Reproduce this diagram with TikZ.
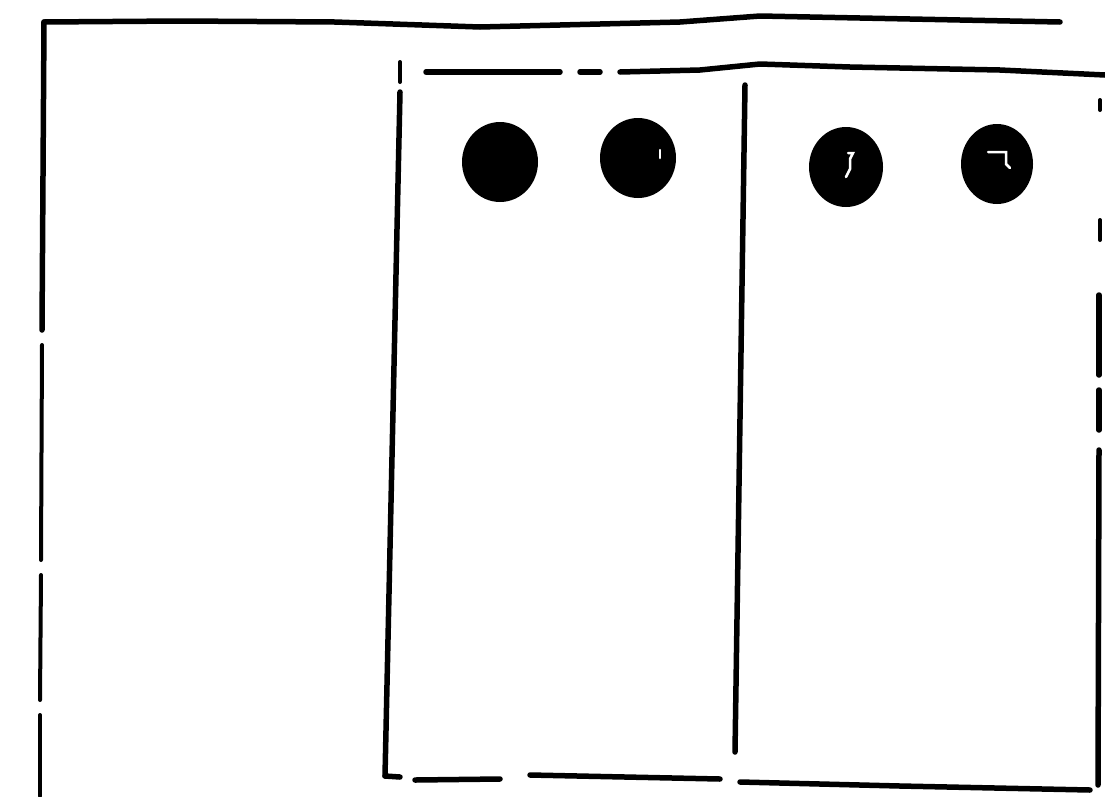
\documentclass[tikz,border=0pt]{standalone}
\usetikzlibrary{calc}
\tikzset{
	pen/.style   ={line width=5.5pt, black, line cap=round, line join=round},
	thinpen/.style={line width=4pt, black, line cap=round},
	blob/.style  ={ellipse, fill=black, minimum width=76pt, minimum height=80pt, inner sep=0pt},
	nick/.style  ={line width=2.5pt, white, line cap=round},
}
\usetikzlibrary{shapes.geometric}
\begin{document}
\begin{tikzpicture}[x=1pt, y=-1pt]
	\useasboundingbox (0,0) rectangle (1105,796);
	% outer frame
	\coordinate (oTL) at (44,22);
	\draw[pen] (oTL) -- (180,21) -- (335,22) -- (480,27) -- (680,22) -- (760,16) -- (1060,22);
	\draw[pen] (oTL) -- (42,330);
	\draw[thinpen] (42,345) -- (41,560);
	\draw[thinpen] (41,575) -- (40,700);
	\draw[thinpen] (40,715) -- (40,796);
	% inner frame
	\coordinate (iTL) at (400,92);
	\coordinate (iBL) at (385,776);
	\coordinate (iBR) at (1090,790);
	\draw[thinpen] (400,62) -- (400,82);
	\draw[pen] (iTL) -- (iBL);
	\draw[pen] (426,72) -- (560,72);
	\draw[pen] (580,72) -- (600,72);
	\draw[pen] (620,72) -- (700,70) -- (760,64) -- (850,67) -- (1000,70) -- (1105,75);
	\draw[pen] (iBL) -- (400,777);
	\draw[pen] (415,780) -- (500,779);
	\draw[pen] (530,775) -- (720,779);
	\draw[pen] (740,782) -- (900,786) -- (iBR);
	\draw[thinpen] (1100,100) -- (1100,110);
	\draw[thinpen] (1100,220) -- (1100,240);
	\draw[pen] (1099,295) -- (1099,375);
	\draw[pen] (1099,390) -- (1099,430);
	\draw[pen] (1099,450) -- (1098,785);
	% divider
	\coordinate (dTop) at (745,85);
	\coordinate (dBot) at (735,752);
	\draw[pen] (dTop) -- (dBot);
	% dots
	\node[blob] (dotA) at (500,162) {};
	\node[blob] (dotB) at (638,158) {};
	\node[blob, minimum width=74pt] (dotC) at (846,167) {};
	\node[blob, minimum width=72pt] (dotD) at (997,164) {};
	\draw[nick] (dotB.center) ++(22,-8) -- ++(0,8);
	\draw[nick] (dotC.center) ++(2,-14) -- ++(5,0) -- ++(-3,6) -- ++(0,10) -- ++(-4,8);
	\draw[nick] (dotD.center) ++(-9,-12) -- ++(18,0) -- ++(0,12) -- ++(4,4);
\end{tikzpicture}
\end{document}
